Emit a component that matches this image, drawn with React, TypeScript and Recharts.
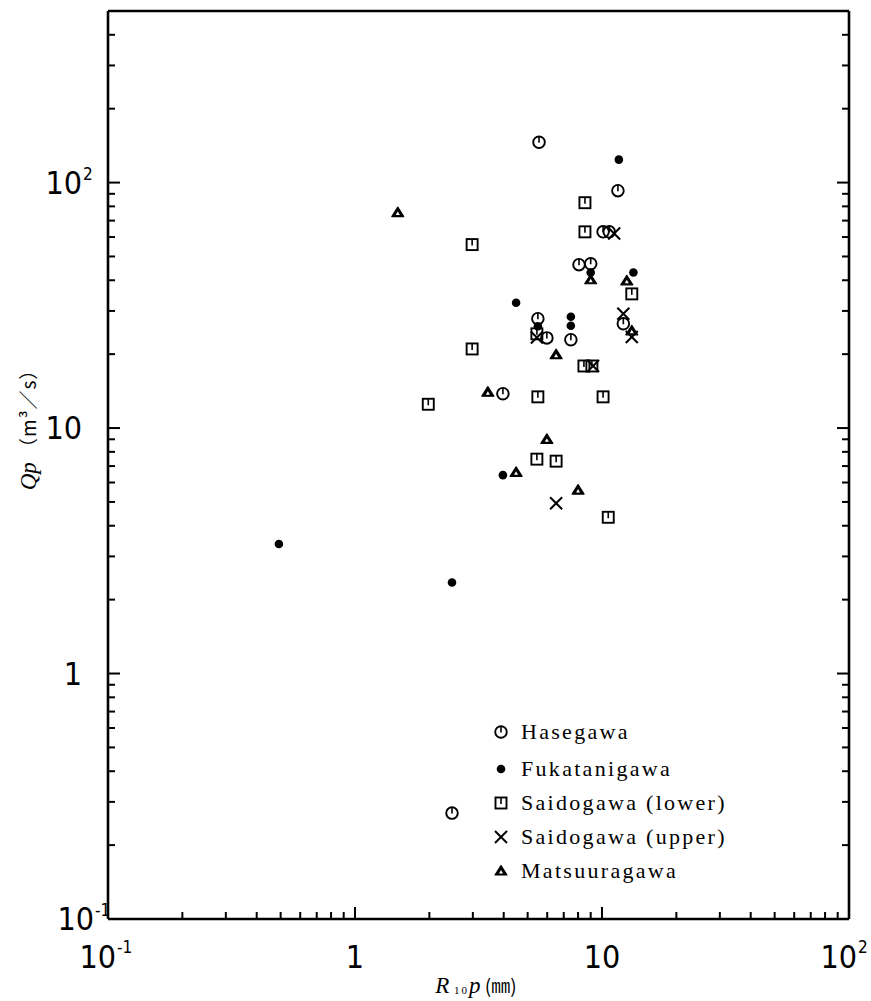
import { ScatterChart, Scatter, XAxis, YAxis } from 'recharts';

// R10p (mm) and Qp (m3/s) per basin
const HASEGAWA_R = [5.56, 11.6, 10.1, 10.7, 8.07, 9.0, 5.5, 5.98, 7.48, 12.2, 3.97, 2.47];
const HASEGAWA_Q = [146, 92.7, 63, 63, 46.3, 46.7, 27.9, 23.3, 22.9, 26.6, 13.8, 0.27];

const FUKATANI_R = [11.7, 4.49, 7.48, 7.48, 5.5, 9.0, 13.4, 3.97, 0.492, 2.47];
const FUKATANI_Q = [124, 32.4, 28.4, 26.1, 26.0, 43, 43, 6.43, 3.37, 2.35];

const SAIDO_LOW_R = [8.53, 8.53, 2.98, 13.2, 5.45, 2.98, 8.45, 9.1, 1.98, 5.5, 10.1, 5.45, 6.52, 10.6];
const SAIDO_LOW_Q = [82.8, 63, 55.9, 35.2, 24.2, 21, 17.9, 17.9, 12.5, 13.4, 13.4, 7.47, 7.33, 4.33];

const SAIDO_UP_R = [11.2, 12.2, 13.2, 5.45, 9.2, 6.52];
const SAIDO_UP_Q = [62, 29.2, 23.5, 23.4, 17.9, 4.94];

const MATSUURA_R = [1.49, 9.0, 12.6, 13.2, 6.52, 3.45, 5.98, 4.49, 8.0];
const MATSUURA_Q = [75.5, 40.2, 39.8, 24.9, 19.9, 14.0, 9.0, 6.6, 5.59];

const X_TICKS = [
  0.1, 0.2, 0.3, 0.4, 0.5, 0.6, 0.7, 0.8, 0.9,
  1, 2, 3, 4, 5, 6, 7, 8, 9,
  10, 20, 30, 40, 50, 60, 70, 80, 90, 100,
];
const Y_TICKS = [
  0.1, 0.2, 0.3, 0.4, 0.5, 0.6, 0.7, 0.8, 0.9,
  1, 2, 3, 4, 5, 6, 7, 8, 9,
  10, 20, 30, 40, 50, 60, 70, 80, 90,
  100, 200, 300, 400,
];
// decade label: [base, superscript]
const DECADE_LABELS: Record<string, [string, string]> = {
  '0.1': ['10', '-1'],
  '1': ['1', ''],
  '10': ['10', ''],
  '100': ['10', '2'],
};

const LEGEND_NAMES = [
  'Hasegawa',
  'Fukatanigawa',
  'Saidogawa (lower)',
  'Saidogawa (upper)',
  'Matsuuragawa',
];

const zip = (xs: number[], ys: number[]) => xs.map((x, i) => ({ x, y: ys[i] }));

const TICK_FONT = "'Liberation Sans Narrow', 'DejaVu Sans Condensed', 'Liberation Sans', sans-serif";
const SERIF = "'Liberation Serif', 'DejaVu Serif', serif";
const CJK = "'Noto Sans CJK JP', sans-serif";

const isMajor = (v: number) => DECADE_LABELS[String(v)] !== undefined;

// marker shapes
const OpenCircle = ({ cx, cy }: any) => (
  <g>
    <circle cx={cx} cy={cy} r={5.8} fill="none" stroke="#000" strokeWidth={1.9} />
    <line x1={cx} x2={cx} y1={cy - 5.8} y2={cy + 0.5} stroke="#000" strokeWidth={1.6} />
  </g>
);
const Dot = ({ cx, cy }: any) => <circle cx={cx} cy={cy} r={4.3} fill="#000" />;
const OpenSquare = ({ cx, cy }: any) => (
  <g>
    <rect x={cx - 5.5} y={cy - 5.5} width={11} height={11} fill="none" stroke="#000" strokeWidth={1.9} />
    <line x1={cx} x2={cx} y1={cy - 5.5} y2={cy + 1} stroke="#000" strokeWidth={1.6} />
  </g>
);
const Cross = ({ cx, cy }: any) => (
  <g stroke="#000" strokeWidth={2}>
    <line x1={cx - 6} y1={cy - 6} x2={cx + 6} y2={cy + 6} />
    <line x1={cx - 6} y1={cy + 6} x2={cx + 6} y2={cy - 6} />
  </g>
);
const Triangle = ({ cx, cy }: any) => (
  <g>
    <polygon
      points={`${cx},${cy - 5.5} ${cx + 6},${cy + 4} ${cx - 6},${cy + 4}`}
      fill="#000"
      stroke="#000"
      strokeWidth={1.2}
      strokeLinejoin="round"
    />
    <polygon points={`${cx},${cy - 1} ${cx + 2},${cy + 2.5} ${cx - 2},${cy + 2.5}`} fill="#fff" />
  </g>
);

const SHAPES = [OpenCircle, Dot, OpenSquare, Cross, Triangle];

const BottomTick = ({ x, y, payload }: any) => {
  const v = payload.value;
  const lab = DECADE_LABELS[String(v)];
  return (
    <g>
      <line x1={x} x2={x} y1={y} y2={y - (lab ? 12 : 7)} stroke="#000" strokeWidth={2} />
      {lab && (
        <g fontFamily={TICK_FONT} fill="#000">
          {lab[1] ? (
            <>
              <text x={x + 8} y={y + 49} textAnchor="end" fontSize={32}>
                {lab[0]}
              </text>
              <text x={x + 9} y={y + 34} fontSize={17}>
                {lab[1]}
              </text>
            </>
          ) : (
            <text x={x} y={y + 49} textAnchor="middle" fontSize={32}>
              {lab[0]}
            </text>
          )}
        </g>
      )}
    </g>
  );
};

const TopTick = ({ x, y, payload }: any) => (
  <line x1={x} x2={x} y1={y} y2={y + (isMajor(payload.value) ? 12 : 7)} stroke="#000" strokeWidth={2} />
);

const LeftTick = ({ x, y, payload }: any) => {
  const v = payload.value;
  const lab = DECADE_LABELS[String(v)];
  // the lowest label sits closer to the axis, as in the printed figure
  const end = v === Y_TICKS[0] ? x - 14 : x - 26;
  return (
    <g>
      <line x1={x} x2={x + (lab ? 12 : 7)} y1={y} y2={y} stroke="#000" strokeWidth={2} />
      {lab && (
        <g fontFamily={TICK_FONT} fill="#000">
          <text x={end} y={y + 11} textAnchor="end" fontSize={32}>
            {lab[0]}
          </text>
          {lab[1] && (
            <text x={end + 1} y={y - 3} fontSize={17}>
              {lab[1]}
            </text>
          )}
        </g>
      )}
    </g>
  );
};

const RightTick = ({ x, y, payload }: any) => (
  <line x1={x} x2={x - (isMajor(payload.value) ? 12 : 7)} y1={y} y2={y} stroke="#000" strokeWidth={2} />
);

const axisLine = { stroke: '#000', strokeWidth: 2.6 };

export default function App() {
  const series = [
    zip(HASEGAWA_R, HASEGAWA_Q),
    zip(FUKATANI_R, FUKATANI_Q),
    zip(SAIDO_LOW_R, SAIDO_LOW_Q),
    zip(SAIDO_UP_R, SAIDO_UP_Q),
    zip(MATSUURA_R, MATSUURA_Q),
  ];

  return (
    <div style={{ position: 'absolute', left: 0, top: 0, width: 871, height: 1001, background: '#fff' }}>
      <ScatterChart width={871} height={1001} margin={{ top: 10, right: 21, bottom: 81, left: 107 }}>
        <XAxis
          dataKey="x"
          type="number"
          scale="log"
          domain={[0.1, 100]}
          ticks={X_TICKS}
          interval={0}
          allowDataOverflow
          height={1}
          tickSize={0}
          tickMargin={0}
          tickLine={false}
          axisLine={axisLine}
          tick={<BottomTick />}
        />
        <XAxis
          xAxisId="top"
          orientation="top"
          type="number"
          scale="log"
          domain={[0.1, 100]}
          ticks={X_TICKS}
          interval={0}
          allowDataOverflow
          height={1}
          tickSize={0}
          tickMargin={0}
          tickLine={false}
          axisLine={axisLine}
          tick={<TopTick />}
        />
        <YAxis
          dataKey="y"
          type="number"
          scale="log"
          domain={[0.1, 500]}
          ticks={Y_TICKS}
          interval={0}
          allowDataOverflow
          width={1}
          tickSize={0}
          tickMargin={0}
          tickLine={false}
          axisLine={axisLine}
          tick={<LeftTick />}
        />
        <YAxis
          yAxisId="right"
          orientation="right"
          type="number"
          scale="log"
          domain={[0.1, 500]}
          ticks={Y_TICKS}
          interval={0}
          allowDataOverflow
          width={1}
          tickSize={0}
          tickMargin={0}
          tickLine={false}
          axisLine={axisLine}
          tick={<RightTick />}
        />
        {series.map((data, i) => {
          const Shape = SHAPES[i];
          return (
            <Scatter
              key={LEGEND_NAMES[i]}
              name={LEGEND_NAMES[i]}
              data={data}
              isAnimationActive={false}
              shape={(p: any) => <Shape cx={p.cx} cy={p.cy} />}
            />
          );
        })}
      </ScatterChart>

      {/* axis titles and legend */}
      <svg
        width={871}
        height={1001}
        style={{ position: 'absolute', left: 0, top: 0, pointerEvents: 'none' }}
      >
        <text x={476} y={993} textAnchor="middle" fontFamily={SERIF} fontSize={23} fill="#000">
          <tspan fontStyle="italic">R</tspan>
          <tspan fontSize={11} dy={1} letterSpacing={2}>
            {' 10'}
          </tspan>
          <tspan fontStyle="italic" dy={-1}>
            p
          </tspan>
          <tspan fontFamily={CJK} fontSize={19}>
            {' (㎜)'}
          </tspan>
        </text>
        <text
          transform="translate(36, 425) rotate(-90)"
          textAnchor="middle"
          fontFamily={SERIF}
          fontSize={23}
          fill="#000"
        >
          <tspan fontStyle="italic">Qp</tspan>
          <tspan fontFamily={CJK} fontSize={19} letterSpacing={1}>
            {' （m³／s）'}
          </tspan>
        </text>
        {LEGEND_NAMES.map((name, i) => {
          const Shape = SHAPES[i];
          const cy = i === 0 ? 732 : 735 + i * 34;
          return (
            <g key={name}>
              <Shape cx={501} cy={cy} />
              <text
                x={521}
                y={cy + 7}
                fontFamily={SERIF}
                fontSize={22}
                letterSpacing={2.3}
                fill="#000"
              >
                {name}
              </text>
            </g>
          );
        })}
      </svg>
    </div>
  );
}
